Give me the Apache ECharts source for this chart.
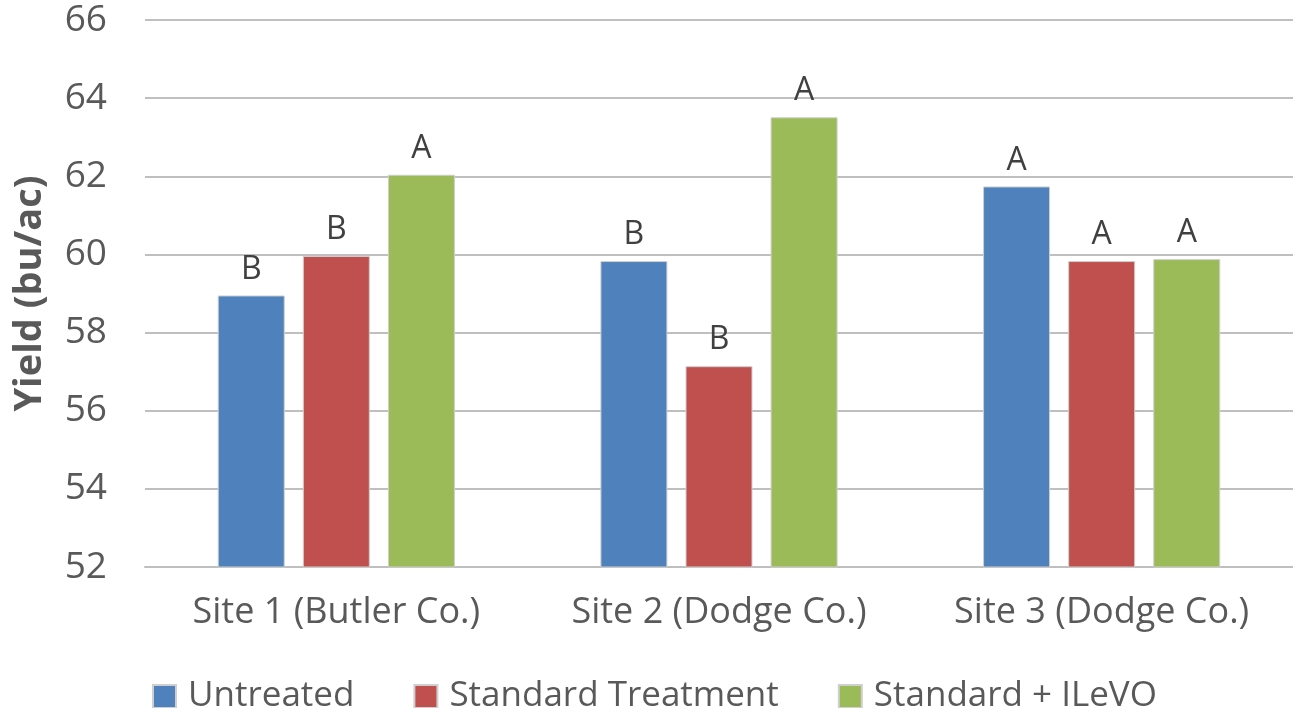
<!DOCTYPE html>
<html lang="en">
<head>
	<meta charset="UTF-8">
	<title>Yield</title>
	<script src="https://cdn.jsdelivr.net/npm/echarts@6/dist/echarts.min.js"></script>
	<style>
		html,body{margin:0;padding:0;background:#fff;overflow:hidden;}
		#chart{width:1293px;height:708px;}
	</style>
</head>
<body>
<div id="chart"></div>
<script>
	// data
	var sites = ['Site 1 (Butler Co.)', 'Site 2 (Dodge Co.)', 'Site 3 (Dodge Co.)'];
	var seriesNames = ['Untreated', 'Standard Treatment', 'Standard + ILeVO'];
	var untreated = [58.95, 59.83, 61.74];
	var standard = [59.96, 57.14, 59.83];
	var ilevo = [62.04, 63.51, 59.88];
	var letters = [
		['B', 'B', 'A'],
		['B', 'B', 'A'],
		['A', 'A', 'A']
	];
	var colors = ['#4F81BD', '#C0504D', '#9BBB59'];

	var font = 'Open Sans';
	var values = [untreated, standard, ilevo];

	var chart = echarts.init(document.getElementById('chart'));

	var series = [];
	for (var s = 0; s < values.length; s++) {
		(function(s){
			series.push({
				name: seriesNames[s],
				type: 'bar',
				data: values[s],
				barWidth: 67,
				barGap: '27%',
				itemStyle: {
					color: colors[s],
					borderColor: '#cfcfcf',
					borderWidth: 1
				},
				label: {
					show: true,
					position: 'top',
					distance: 10,
					fontFamily: font,
					fontSize: 32,
					color: '#404040',
					formatter: function(p){
						// letters are stored per site, then per series
						return letters[p.dataIndex][s];
					}
				}
			});
		})(s);
	}

	var option = {
		animation: false,
		color: colors,
		textStyle: { fontFamily: font },
		grid: {
			left: 145,
			right: -12,
			top: 20,
			bottom: 141,
			containLabel: false
		},
		legend: {
			left: 147,
			top: 674,
			itemWidth: 23,
			itemHeight: 23,
			itemGap: 59,
			icon: 'rect',
			data: seriesNames,
			textStyle: {
				fontFamily: font,
				fontSize: 35,
				color: '#595959',
				padding: [0, 0, 0, 7]
			}
		},
		xAxis: {
			type: 'category',
			data: sites,
			axisLine: { lineStyle: { color: '#BFBFBF', width: 2 } },
			axisTick: { show: false },
			axisLabel: {
				interval: 0,
				fontFamily: font,
				fontSize: 36,
				color: '#595959',
				margin: 28
			}
		},
		yAxis: {
			type: 'value',
			min: 52,
			max: 66,
			interval: 2,
			name: 'Yield (bu/ac)',
			nameLocation: 'middle',
			nameGap: 96,
			nameTextStyle: {
				fontFamily: font,
				fontSize: 38,
				fontWeight: 'bold',
				color: '#595959'
			},
			axisLine: { show: false },
			axisTick: { show: false },
			axisLabel: {
				fontFamily: font,
				fontSize: 37,
				color: '#595959',
				margin: 38
			},
			splitLine: { lineStyle: { color: '#BFBFBF', width: 2 } }
		},
		series: series
	};

	chart.setOption(option);
</script>
</body>
</html>
